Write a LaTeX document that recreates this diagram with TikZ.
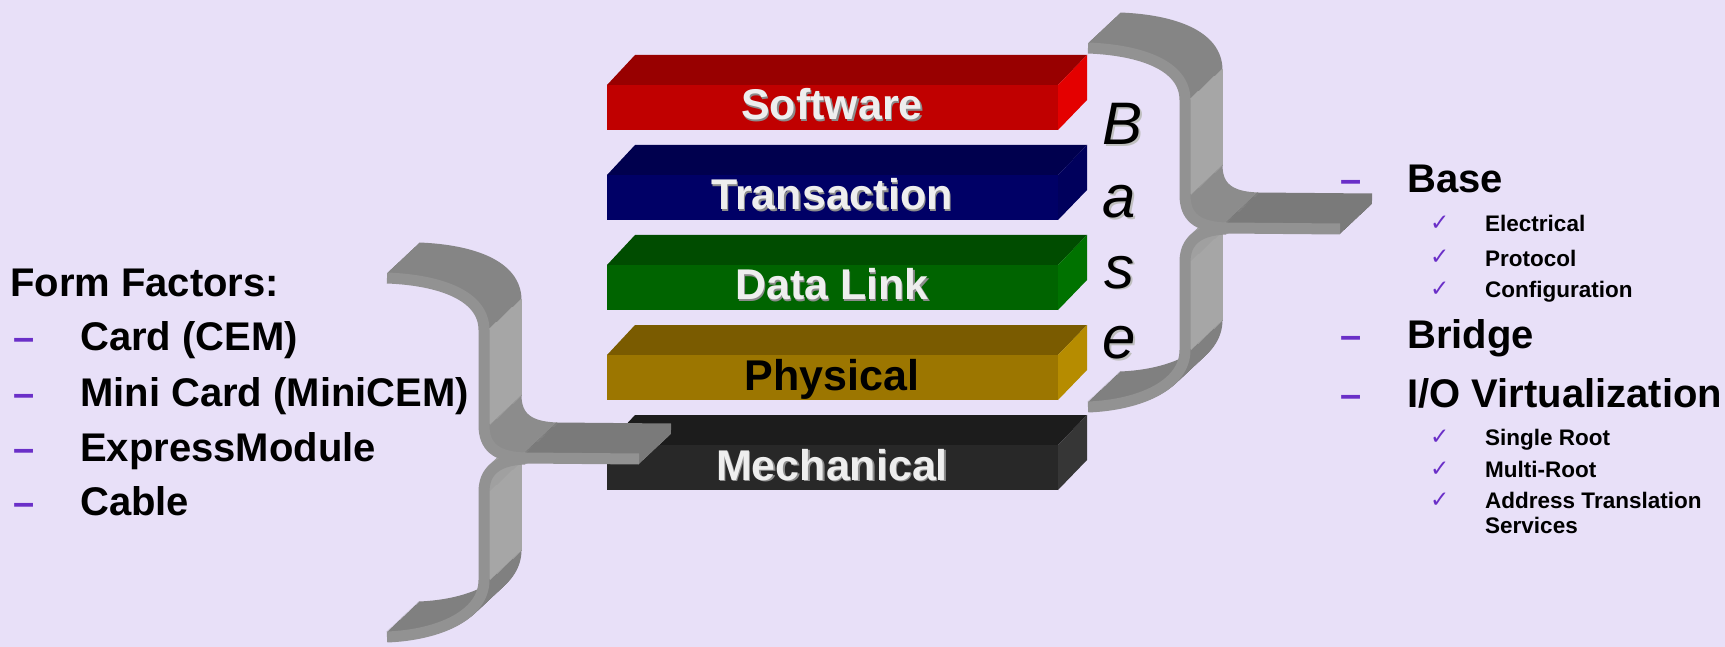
\documentclass[tikz,border=0pt]{standalone}
\usepackage{fontspec}
\setmainfont{Liberation Sans}
\newfontfamily\checkfont{DejaVu Sans}
\definecolor{bg}{HTML}{E8E0F8}
\definecolor{purp}{HTML}{6A2FC8}
\definecolor{lighttxt}{HTML}{EEEEEE}
\definecolor{swF}{HTML}{C00000}\definecolor{swT}{HTML}{980000}\definecolor{swS}{HTML}{E40000}
\definecolor{trF}{HTML}{000066}\definecolor{trT}{HTML}{00004E}\definecolor{trS}{HTML}{00005C}
\definecolor{dlF}{HTML}{006400}\definecolor{dlT}{HTML}{004C00}\definecolor{dlS}{HTML}{007200}
\definecolor{phF}{HTML}{9C7600}\definecolor{phT}{HTML}{7A5B00}\definecolor{phS}{HTML}{B68C00}
\definecolor{meF}{HTML}{282828}\definecolor{meT}{HTML}{1C1C1C}\definecolor{meS}{HTML}{363636}
\definecolor{brA}{HTML}{858585}
\definecolor{brV}{HTML}{A6A6A6}
\definecolor{brB}{HTML}{8C8C8C}
\definecolor{brT}{HTML}{7A7A7A}
\definecolor{brC}{HTML}{A0A0A0}
\definecolor{brD}{HTML}{808080}
\definecolor{brF}{HTML}{929292}
\tikzset{
  bigtxt/.style={font=\fontsize{40}{40}\selectfont\bfseries, anchor=base west, inner sep=0pt, text=black},
  dashtxt/.style={font=\fontsize{38}{38}\selectfont\bfseries, anchor=base west, inner sep=0pt, text=purp},
  subtxt/.style={font=\fontsize{22.5}{22.5}\selectfont\bfseries, anchor=base west, inner sep=0pt, text=black},
  chk/.style={font=\fontsize{23}{23}\selectfont\checkfont, anchor=base west, inner sep=0pt, text=purp},
  layertxt/.style={font=\fontsize{43}{43}\selectfont\bfseries, anchor=base, inner sep=0pt},
  basetxt/.style={font=\fontsize{60}{60}\selectfont\itshape, anchor=base west, inner sep=0pt},
  bseg/.style={line width=11pt, line cap=butt},
}
% #1 name, #2 top y, #3 front, #4 top, #5 side, #6 label, #7 text colour, #8 shadow colour
\newcommand\pcilayer[8]{%
  \fill[#4] (607,#2) -- (635,#2-30) -- (1087,#2-30) -- (1058,#2) -- cycle;
  \fill[#5] (1058,#2) -- (1087,#2-30) -- (1087,#2+15) -- (1058,#2+45) -- cycle;
  \fill[#3] (607,#2) rectangle (1058,#2+45);
  \node[layertxt, text=#8] (#1s) at (833.3,#2+36.3) {#6};
  \node[layertxt, text=#7] (#1) at (832,#2+35) {#6};
}
\newcommand\pcibrace{%
  \foreach \k in {32,31,...,1}{%
    \begin{scope}[shift={(\k,-0.9375*\k)}]
      \draw[bseg, brA] (1088,48) .. controls (1140,50) and (1185,65) .. (1185,100);
      \draw[bseg, brV] (1185,99) -- (1185,196);
      \draw[bseg, brB] (1185,195) .. controls (1185,216) and (1196,227) .. (1226,228);
      \draw[bseg, brT] (1225,228) -- (1340,229);
      \draw[bseg, brC] (1227,229) .. controls (1197,230) and (1185,242) .. (1185,263);
      \draw[bseg, brV] (1185,262) -- (1185,351);
      \draw[bseg, brD] (1185,350) .. controls (1185,385) and (1140,405) .. (1088,407);
    \end{scope}}
  \draw[bseg, brF, line join=round] (1088,48) .. controls (1140,50) and (1185,65) .. (1185,100) -- (1185,195) .. controls (1185,216) and (1196,227) .. (1226,228) -- (1340,229);
  \draw[bseg, brF, line join=round] (1226,229) .. controls (1197,230) and (1185,242) .. (1185,262) -- (1185,350) .. controls (1185,385) and (1140,405) .. (1088,407);
}
\begin{document}
\begin{tikzpicture}[x=1pt, y=-1pt]
\fill[bg] (0,0) rectangle (1725,647);
\useasboundingbox (0,0) rectangle (1725,647);

% layers
\pcilayer{sw}{85}{swF}{swT}{swS}{Software}{lighttxt}{black!45}
\pcilayer{tr}{175}{trF}{trT}{trS}{Transaction}{lighttxt}{black!45}
\pcilayer{dl}{265}{dlF}{dlT}{dlS}{Data Link}{lighttxt}{black!45}
\pcilayer{ph}{355}{phF}{phT}{phS}{Physical}{black}{phF}
\pcilayer{me}{445}{meF}{meT}{meS}{Mechanical}{lighttxt}{black!45}

% braces
\pcibrace
\begin{scope}[shift={(-701,230)}]
  \pcibrace
\end{scope}

% B a s e
\node[basetxt, text=black!25] (bBs) at (1104,147) {B};
\node[basetxt] (bB) at (1102,145) {B};
\node[basetxt, text=black!25] (bAs) at (1104,220) {a};
\node[basetxt] (bA) at (1102,218) {a};
\node[basetxt, text=black!25] (bSs) at (1106,290) {s};
\node[basetxt] (bS) at (1104,288) {s};
\node[basetxt, text=black!25] (bEs) at (1104,360) {e};
\node[basetxt] (bE) at (1102,358) {e};

% left list
\node[bigtxt] (ff) at (10,297) {Form Factors:};
\node[dashtxt] (d1) at (13,350) {–};
\node[bigtxt] (i1) at (80,350) {Card (CEM)};
\node[dashtxt] (d2) at (13,406) {–};
\node[bigtxt] (i2) at (80,406) {Mini Card (MiniCEM)};
\node[dashtxt] (d3) at (13,461) {–};
\node[bigtxt] (i3) at (80,461) {ExpressModule};
\node[dashtxt] (d4) at (13,515) {–};
\node[bigtxt] (i4) at (80,515) {Cable};

% right list
\node[dashtxt] (r1d) at (1340,193) {–};
\node[bigtxt] (r1) at (1407,193) {Base};
\node[chk] (c1) at (1430,231) {✓};
\node[subtxt] (s1) at (1485,232) {Electrical};
\node[chk] (c2) at (1430,265) {✓};
\node[subtxt] (s2) at (1485,266) {Protocol};
\node[chk] (c3) at (1430,297) {✓};
\node[subtxt] (s3) at (1485,298) {Configuration};
\node[dashtxt] (r2d) at (1340,348) {–};
\node[bigtxt] (r2) at (1407,348) {Bridge};
\node[dashtxt] (r3d) at (1340,407) {–};
\node[bigtxt] (r3) at (1407,407) {I/O Virtualization};
\node[chk] (c4) at (1430,444) {✓};
\node[subtxt] (s4) at (1485,445) {Single Root};
\node[chk] (c5) at (1430,476) {✓};
\node[subtxt] (s5) at (1485,477) {Multi-Root};
\node[chk] (c6) at (1430,507) {✓};
\node[subtxt] (s6) at (1485,508) {Address Translation};
\node[subtxt] (s7) at (1485,533) {Services};
\end{tikzpicture}
\end{document}
